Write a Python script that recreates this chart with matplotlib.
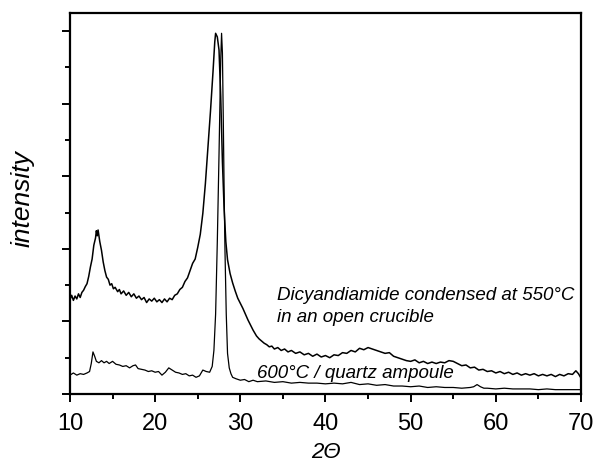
import matplotlib
matplotlib.use("Agg")
import matplotlib.pyplot as plt
from matplotlib.ticker import MultipleLocator

plt.rcParams['font.family'] = ['Liberation Sans', 'DejaVu Sans']

# 2-theta positions and intensities (arbitrary units)
two_theta_550 = [10.0, 10.2, 10.4, 10.6, 10.8, 11.0, 11.2, 11.4, 11.6, 11.8, 12.0, 12.2,
                 12.4, 12.6, 12.8, 13.0, 13.1, 13.2, 13.3, 13.5, 13.7, 13.9, 14.1, 14.3,
                 14.5, 14.7, 14.9, 15.1, 15.3, 15.6, 15.8, 16.0, 16.3, 16.6, 16.9, 17.2,
                 17.5, 17.8, 18.1, 18.4, 18.7, 19.0, 19.3, 19.6, 19.9, 20.2, 20.5, 20.8,
                 21.1, 21.4, 21.7, 22.0, 22.3, 22.6, 22.9, 23.2, 23.5, 23.8, 24.1, 24.4,
                 24.7, 25.0, 25.3, 25.6, 25.9, 26.2, 26.5, 26.8, 27.0, 27.1, 27.3, 27.5,
                 27.7, 27.9, 28.1, 28.3, 28.5, 28.8, 29.1, 29.4, 29.7, 30.0, 30.3, 30.6,
                 30.9, 31.2, 31.5, 31.9, 32.2, 32.5, 32.8, 33.1, 33.4, 33.7, 34.0, 34.4,
                 34.8, 35.2, 35.6, 36.0, 36.5, 37.0, 37.5, 38.0, 38.5, 39.0, 39.5, 40.0,
                 40.5, 41.0, 41.5, 42.0, 42.5, 43.0, 43.5, 44.0, 44.5, 45.0, 45.5, 46.0,
                 46.5, 47.0, 47.5, 48.0, 48.5, 49.0, 49.5, 50.0, 50.5, 51.0, 51.5, 52.0,
                 52.5, 53.0, 53.5, 54.0, 54.5, 55.0, 55.5, 56.0, 56.5, 57.0, 57.5, 58.0,
                 58.5, 59.0, 59.5, 60.0, 60.5, 61.0, 61.5, 62.0, 62.5, 63.0, 63.5, 64.0,
                 64.5, 65.0, 65.5, 66.0, 66.5, 67.0, 67.5, 68.0, 68.5, 69.0, 69.4, 69.7,
                 70.0]
intensity_550 = [1.30, 1.36, 1.29, 1.35, 1.31, 1.38, 1.33, 1.40, 1.43, 1.48, 1.52, 1.62,
                 1.75, 1.86, 2.05, 2.15, 2.25, 2.18, 2.26, 2.10, 1.98, 1.82, 1.70, 1.61,
                 1.58, 1.50, 1.52, 1.45, 1.47, 1.41, 1.44, 1.38, 1.42, 1.36, 1.40, 1.34,
                 1.38, 1.32, 1.35, 1.30, 1.33, 1.26, 1.31, 1.28, 1.32, 1.27, 1.30, 1.26,
                 1.31, 1.27, 1.32, 1.30, 1.36, 1.38, 1.44, 1.47, 1.55, 1.60, 1.70, 1.80,
                 1.86, 2.02, 2.20, 2.49, 2.90, 3.40, 3.90, 4.45, 4.85, 4.97, 4.92, 4.74,
                 4.10, 3.20, 2.55, 2.10, 1.85, 1.66, 1.53, 1.42, 1.32, 1.25, 1.18, 1.10,
                 1.02, 0.95, 0.88, 0.80, 0.76, 0.73, 0.70, 0.68, 0.65, 0.66, 0.62, 0.64,
                 0.60, 0.62, 0.58, 0.60, 0.56, 0.58, 0.54, 0.56, 0.52, 0.55, 0.51, 0.53,
                 0.50, 0.54, 0.53, 0.57, 0.56, 0.60, 0.58, 0.63, 0.61, 0.64, 0.62, 0.60,
                 0.58, 0.56, 0.57, 0.52, 0.50, 0.48, 0.46, 0.45, 0.47, 0.43, 0.45, 0.42,
                 0.44, 0.42, 0.44, 0.43, 0.46, 0.45, 0.42, 0.39, 0.40, 0.36, 0.37, 0.33,
                 0.34, 0.31, 0.32, 0.29, 0.31, 0.28, 0.30, 0.27, 0.29, 0.26, 0.28, 0.26,
                 0.28, 0.25, 0.27, 0.25, 0.27, 0.24, 0.27, 0.25, 0.28, 0.27, 0.32, 0.28,
                 0.22]

two_theta_600 = [10.0, 10.4, 10.8, 11.2, 11.6, 12.0, 12.3, 12.5, 12.7, 12.9, 13.1, 13.4,
                 13.7, 14.0, 14.3, 14.6, 15.0, 15.4, 15.8, 16.2, 16.6, 17.0, 17.4, 17.7,
                 18.0, 18.4, 18.8, 19.2, 19.6, 20.0, 20.4, 20.8, 21.2, 21.6, 22.0, 22.4,
                 22.8, 23.2, 23.6, 24.0, 24.4, 24.8, 25.2, 25.6, 26.0, 26.4, 26.7, 26.9,
                 27.1, 27.3, 27.5, 27.7, 27.8, 27.9, 28.0, 28.1, 28.2, 28.35, 28.5, 28.7,
                 28.9, 29.1, 29.5, 30.0, 30.5, 31.0, 31.5, 32.0, 33.0, 34.0, 35.0, 36.0,
                 37.0, 38.0, 39.0, 40.0, 41.0, 42.0, 43.0, 44.0, 45.0, 46.0, 47.0, 48.0,
                 49.0, 50.0, 51.0, 52.0, 53.0, 54.0, 55.0, 56.0, 57.0, 57.4, 57.8, 58.2,
                 58.6, 59.0, 60.0, 61.0, 62.0, 63.0, 64.0, 65.0, 66.0, 67.0, 68.0, 69.0,
                 70.0]
intensity_600 = [0.26, 0.29, 0.26, 0.28, 0.27, 0.29, 0.31, 0.42, 0.58, 0.52, 0.45, 0.43,
                 0.46, 0.43, 0.45, 0.42, 0.45, 0.41, 0.40, 0.38, 0.39, 0.36, 0.39, 0.40,
                 0.35, 0.34, 0.33, 0.31, 0.32, 0.30, 0.31, 0.26, 0.30, 0.36, 0.33, 0.30,
                 0.29, 0.27, 0.28, 0.25, 0.26, 0.23, 0.25, 0.33, 0.31, 0.30, 0.38, 0.60,
                 1.10, 2.10, 3.30, 4.60, 4.97, 4.70, 3.80, 2.80, 1.98, 1.10, 0.56, 0.36,
                 0.28, 0.23, 0.21, 0.19, 0.20, 0.17, 0.19, 0.17, 0.18, 0.16, 0.17, 0.15,
                 0.16, 0.15, 0.15, 0.14, 0.15, 0.14, 0.16, 0.13, 0.14, 0.12, 0.13, 0.11,
                 0.11, 0.10, 0.11, 0.09, 0.10, 0.09, 0.09, 0.08, 0.09, 0.10, 0.13, 0.10,
                 0.08, 0.08, 0.07, 0.08, 0.07, 0.07, 0.07, 0.06, 0.07, 0.06, 0.06, 0.06,
                 0.06]

label_550_l1 = "Dicyandiamide condensed at 550°C"
label_550_l2 = "in an open crucible"
label_600 = "600°C / quartz ampoule"

fig = plt.figure(figsize=(5.96, 4.67), dpi=100)
ax = fig.add_axes([0.1174, 0.1563, 0.8574, 0.8159])

ax.plot(two_theta_550, intensity_550, color='black', lw=1.1)
ax.plot(two_theta_600, intensity_600, color='black', lw=0.9)

ax.set_xlim(10, 70)
ax.set_ylim(0, 5.25)

ax.xaxis.set_major_locator(MultipleLocator(10))
ax.xaxis.set_minor_locator(MultipleLocator(5))
ax.yaxis.set_major_locator(MultipleLocator(1))
ax.yaxis.set_minor_locator(MultipleLocator(0.5))
ax.set_yticklabels([])
ax.tick_params(which='major', direction='out', length=6, width=1.4, labelsize=17, pad=8)
ax.tick_params(which='minor', direction='out', length=3.5, width=1.4)

for sp in ax.spines.values():
    sp.set_linewidth(1.6)

ax.set_ylabel("intensity", fontsize=19, fontstyle='italic')
ax.yaxis.set_label_coords(-0.0685, 0.512)
ax.set_xlabel("2Θ", fontsize=16, fontstyle='italic')
ax.xaxis.set_label_coords(0.5, -0.126)

ax.text(34.3, 1.295, label_550_l1, fontsize=13.5, fontstyle='italic',
        ha='left', va='baseline')
ax.text(34.3, 0.99, label_550_l2, fontsize=13.5, fontstyle='italic',
        ha='left', va='baseline')
ax.text(31.95, 0.22, label_600, fontsize=13.5, fontstyle='italic',
        ha='left', va='baseline')

fig.savefig("out.png", dpi=100)
